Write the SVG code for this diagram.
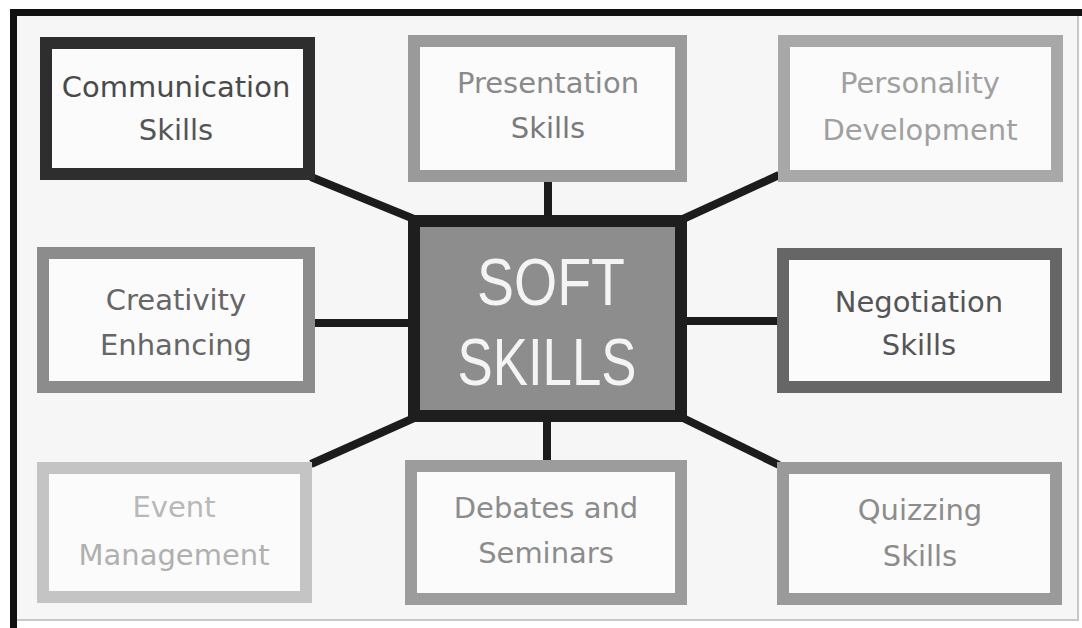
<svg xmlns="http://www.w3.org/2000/svg" width="1082" height="628" viewBox="0 0 1082 628">
<style>
.box{fill:#fbfbfb;stroke-width:12}
.lbl{font-family:"DejaVu Sans","Liberation Sans",sans-serif;font-size:29px;text-anchor:middle}
.con{stroke:#1c1c1c;stroke-width:8;fill:none}
.big{font-family:"Liberation Sans","DejaVu Sans",sans-serif;font-size:66px;fill:#f4f4f4;text-anchor:middle}
</style>
<rect x="0" y="0" width="1082" height="628" fill="#ffffff"/>
<rect x="14" y="13" width="1064" height="607" fill="#f6f6f6" stroke="#c8c8c8" stroke-width="2"/>
<line x1="13.5" y1="9" x2="13.5" y2="628" stroke="#111" stroke-width="7"/>
<line x1="10" y1="12.5" x2="1082" y2="12.5" stroke="#111" stroke-width="7"/>
<g id="connectors">
<line class="con" x1="548" y1="180" x2="548" y2="217"/>
<line class="con" x1="547" y1="420" x2="547" y2="462"/>
<line class="con" x1="313" y1="323" x2="410" y2="323"/>
<line class="con" x1="685" y1="321" x2="779" y2="321"/>
<line class="con" x1="311" y1="177" x2="414" y2="219"/>
<line class="con" x1="779" y1="175" x2="683" y2="219"/>
<line class="con" x1="311" y1="464" x2="414" y2="418"/>
<line class="con" x1="779" y1="465" x2="683" y2="418"/>
</g>
<g id="soft-skills">
<rect x="414" y="221" width="267" height="195" fill="#8d8d8d" stroke="#1e1e1e" stroke-width="12"/>
<text class="big" x="551" y="305" textLength="148" lengthAdjust="spacingAndGlyphs">SOFT</text>
<text class="big" x="547" y="385" textLength="179" lengthAdjust="spacingAndGlyphs">SKILLS</text>
</g>
<g id="communication">
<rect class="box" x="46" y="43" width="263" height="131" stroke="#2e2e2e"/>
<text class="lbl" x="176" y="97" fill="#4a4a4a">Communication</text>
<text class="lbl" x="176" y="140" fill="#555">Skills</text>
</g>
<g id="presentation">
<rect class="box" x="414" y="41" width="267" height="135" stroke="#9a9a9a"/>
<text class="lbl" x="548" y="93" fill="#8a8a8a">Presentation</text>
<text class="lbl" x="548" y="138" fill="#7a7a7a">Skills</text>
</g>
<g id="personality">
<rect class="box" x="784" y="41" width="273" height="135" stroke="#a8a8a8"/>
<text class="lbl" x="920" y="93" fill="#a0a0a0">Personality</text>
<text class="lbl" x="920" y="140" fill="#a0a0a0">Development</text>
</g>
<g id="creativity">
<rect class="box" x="43" y="253" width="266" height="134" stroke="#8c8c8c"/>
<text class="lbl" x="176" y="310" fill="#666">Creativity</text>
<text class="lbl" x="176" y="355" fill="#666">Enhancing</text>
</g>
<g id="negotiation">
<rect class="box" x="783" y="254" width="273" height="133" stroke="#666"/>
<text class="lbl" x="919" y="312" fill="#555">Negotiation</text>
<text class="lbl" x="919" y="355" fill="#555">Skills</text>
</g>
<g id="event">
<rect class="box" x="43" y="468" width="263" height="129" stroke="#c4c4c4"/>
<text class="lbl" x="174" y="517" fill="#b8b8b8">Event</text>
<text class="lbl" x="174" y="565" fill="#b0b0b0">Management</text>
</g>
<g id="debates">
<rect class="box" x="411" y="466" width="270" height="133" stroke="#9c9c9c"/>
<text class="lbl" x="546" y="518" fill="#8c8c8c">Debates and</text>
<text class="lbl" x="546" y="563" fill="#8c8c8c">Seminars</text>
</g>
<g id="quizzing">
<rect class="box" x="783" y="468" width="273" height="131" stroke="#9a9a9a"/>
<text class="lbl" x="920" y="520" fill="#8c8c8c">Quizzing</text>
<text class="lbl" x="920" y="566" fill="#8c8c8c">Skills</text>
</g>
</svg>
